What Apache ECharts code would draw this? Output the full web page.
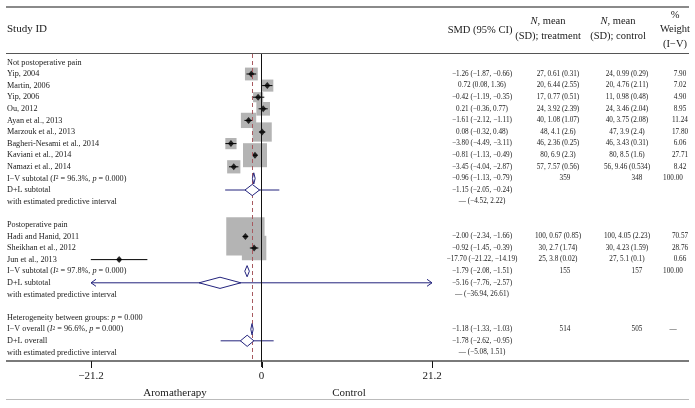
<!DOCTYPE html>
<html><head><meta charset="utf-8">
<script src="https://cdn.jsdelivr.net/npm/echarts@6/dist/echarts.min.js"></script>
<style>html,body{margin:0;padding:0;background:#fff}#c{width:695px;height:408px}</style>
</head><body><div id="c"></div>
<script>
// ---------- data ----------
const group1Name = 'Not postoperative pain';
const group1Studies = ['Yip, 2004','Martin, 2006','Yip, 2006','Ou, 2012','Ayan et al., 2013','Marzouk et al., 2013','Bagheri-Nesami et al., 2014','Kaviani et al., 2014','Namazi et al., 2014'];
const group1Smd = [-1.26, 0.72, -0.42, 0.21, -1.61, 0.08, -3.80, -0.81, -3.45];
const group1Lo  = [-1.87, 0.08, -1.19, -0.36, -2.12, -0.32, -4.49, -1.13, -4.04];
const group1Hi  = [-0.66, 1.36, 0.35, 0.77, -1.11, 0.48, -3.11, -0.49, -2.87];
const group1CiText = ['−1.26 (−1.87, −0.66)','0.72 (0.08, 1.36)','−0.42 (−1.19, −0.35)','0.21 (−0.36, 0.77)','−1.61 (−2.12, −1.11)','0.08 (−0.32, 0.48)','−3.80 (−4.49, −3.11)','−0.81 (−1.13, −0.49)','−3.45 (−4.04, −2.87)'];
const group1Treatment = ['27, 0.61 (0.31)','20, 6.44 (2.55)','17, 0.77 (0.51)','24, 3.92 (2.39)','40, 1.08 (1.07)','48, 4.1 (2.6)','46, 2.36 (0.25)','80, 6.9 (2.3)','57, 7.57 (0.56)'];
const group1Control = ['24, 0.99 (0.29)','20, 4.76 (2.11)','11, 0.98 (0.48)','24, 3.46 (2.04)','40, 3.75 (2.08)','47, 3.9 (2.4)','46, 3.43 (0.31)','80, 8.5 (1.6)','56, 9.46 (0.534)'];
const group1Weight = [7.90, 7.02, 4.90, 8.95, 11.24, 17.80, 6.06, 27.71, 8.42];
const group1IV = [-0.96, -1.13, -0.79];
const group1DL = [-1.15, -2.05, -0.24];
const group1PI = [-4.52, 2.22];
const group1I2 = '96.3%';
const group1N = [359, 348];

const group2Name = 'Postoperative pain';
const group2Studies = ['Hadi and Hanid, 2011','Sheikhan et al., 2012','Jun et al., 2013'];
const group2Smd = [-2.00, -0.92, -17.70];
const group2Lo  = [-2.34, -1.45, -21.22];
const group2Hi  = [-1.66, -0.39, -14.19];
const group2CiText = ['−2.00 (−2.34, −1.66)','−0.92 (−1.45, −0.39)','−17.70 (−21.22, −14.19)'];
const group2Treatment = ['100, 0.67 (0.85)','30, 2.7 (1.74)','25, 3.8 (0.02)'];
const group2Control = ['100, 4.05 (2.23)','30, 4.23 (1.59)','27, 5.1 (0.1)'];
const group2Weight = [70.57, 28.76, 0.66];
const group2IV = [-1.79, -2.08, -1.51];
const group2DL = [-5.16, -7.76, -2.57];
const group2PI = [-36.94, 26.61];
const group2I2 = '97.8%';
const group2N = [155, 157];

const heterogeneityP = '0.000';
const overallIV = [-1.18, -1.33, -1.03];
const overallDL = [-1.78, -2.62, -0.95];
const overallPI = [-5.08, 1.51];
const overallI2 = '96.6%';
const overallN = [514, 505];

const axisTicks = [-21.2, 0, 21.2];
const sideLabels = ['Aromatherapy', 'Control'];

// ---------- styles ----------
const FONT = 'Liberation Serif';
const TXT = '#1a1a1a';
const NAVY = '#23237d';
const BOX = '#b4b4b4';
const BOX_K = 4.56;
const COL = {study: 7, smd: 482, treat: 558, treatTot: 565, ctrl: 627, ctrlTot: 637, wt: 680, wtTot: 673};
const FS = 8.2;   // label column
const FN = 7.2;   // numeric columns
const Y_MIN = -0.724, Y_MAX = 25.74;

function fmt(v){ return (v < 0 ? '−' : '') + Math.abs(v).toFixed(2); }
function ciStr(a){ return fmt(a[0]) + ' (' + fmt(a[1]) + ', ' + fmt(a[2]) + ')'; }

// ---------- build rows ----------
const rows = [];
function addGroup(name, studies, smd, lo, hi, ciText, tr, ct, wt, iv, dl, pi, i2, n){
  rows.push({kind:'head', label:name});
  studies.forEach((s,i)=>rows.push({kind:'study', label:s, est:smd[i], lo:lo[i], hi:hi[i], ci:ciText[i], t:tr[i], c:ct[i], w:wt[i]}));
  rows.push({kind:'iv', label:'I−V subtotal ({it|I}{sup|2} = ' + i2 + ', {it|p} = 0.000)', est:iv[0], lo:iv[1], hi:iv[2], ci:ciStr(iv), t:String(n[0]), c:String(n[1]), wtxt:'100.00'});
  rows.push({kind:'dl', label:'D+L subtotal', est:dl[0], lo:dl[1], hi:dl[2], ci:ciStr(dl), pi:pi});
  rows.push({kind:'pitext', label:'with estimated predictive interval', ci:'— (' + fmt(pi[0]) + ', ' + fmt(pi[1]) + ')'});
  rows.push({kind:'blank'});
}
addGroup(group1Name, group1Studies, group1Smd, group1Lo, group1Hi, group1CiText, group1Treatment, group1Control, group1Weight, group1IV, group1DL, group1PI, group1I2, group1N);
addGroup(group2Name, group2Studies, group2Smd, group2Lo, group2Hi, group2CiText, group2Treatment, group2Control, group2Weight, group2IV, group2DL, group2PI, group2I2, group2N);
rows.push({kind:'head', label:'Heterogeneity between groups: {it|p} = ' + heterogeneityP});
rows.push({kind:'iv', label:'I−V overall ({it|I}{sup|2} = ' + overallI2 + ', {it|p} = 0.000)', est:overallIV[0], lo:overallIV[1], hi:overallIV[2], ci:ciStr(overallIV), t:String(overallN[0]), c:String(overallN[1]), wtxt:'—'});
rows.push({kind:'dl', label:'D+L overall', est:overallDL[0], lo:overallDL[1], hi:overallDL[2], ci:ciStr(overallDL), pi:overallPI});
rows.push({kind:'pitext', label:'with estimated predictive interval', ci:'— (' + fmt(overallPI[0]) + ', ' + fmt(overallPI[1]) + ')'});

const studyRows = [], ciRows = [], diamondRows = [], piRows = [];
rows.forEach((r,i)=>{
  if (r.kind === 'study'){ studyRows.push([r.est, i, r.w]); ciRows.push([r.lo, r.hi, i]); }
  if (r.kind === 'iv' || r.kind === 'dl') diamondRows.push([r.lo, r.est, r.hi, i]);
  if (r.kind === 'dl') piRows.push([r.pi[0], r.pi[1], i]);
});

const rich = {
  it: {fontFamily: FONT, fontSize: FS, fontStyle: 'italic', fill: TXT},
  sup: {fontFamily: FONT, fontSize: 5.5, verticalAlign: 'top', fill: TXT}
};
const richH = {
  it: {fontFamily: FONT, fontSize: 10.5, fontStyle: 'italic', fill: TXT}
};

const chart = echarts.init(document.getElementById('c'), null, {renderer: 'canvas'});
const X_MIN = axisTicks[0], X_MAX = axisTicks[axisTicks.length-1];

function txt(text, x, y, align, size, richDef){
  const st = {text, x, y, align, verticalAlign: 'middle', fontFamily: FONT, fontSize: size || FN, fill: TXT};
  if (richDef) st.rich = richDef;
  return {type: 'text', style: st};
}

const option = {
  animation: false,
  grid: {left: 91, right: 263, top: 54, bottom: 47},
  xAxis: {
    type: 'value', min: X_MIN, max: X_MAX, interval: 21.2, position: 'bottom',
    axisLine: {show: true, onZero: false, lineStyle: {color: '#7a7a7a', width: 2}},
    axisTick: {show: true, inside: false, length: 6, lineStyle: {color: '#222', width: 1}},
    axisLabel: {margin: 10, fontFamily: FONT, fontSize: 11, color: TXT,
      formatter: v => (v < 0 ? '−' + Math.abs(v) : String(v))},
    splitLine: {show: false}
  },
  yAxis: {type: 'value', min: Y_MIN, max: Y_MAX, inverse: true, show: false},
  graphic: [
    {type: 'line', z: -1, shape: {x1: 6, y1: 7, x2: 689, y2: 7}, style: {stroke: '#8a8a8a', lineWidth: 2}},
    {type: 'line', z: -1, shape: {x1: 6, y1: 53.5, x2: 689, y2: 53.5}, style: {stroke: '#555', lineWidth: 1.2}},
    {type: 'line', z: -1, shape: {x1: 6, y1: 361, x2: 689, y2: 361}, style: {stroke: '#7a7a7a', lineWidth: 2}},
    {type: 'line', z: -1, shape: {x1: 6, y1: 399.5, x2: 689, y2: 399.5}, style: {stroke: '#bbb', lineWidth: 1}},
    {type: 'text', style: {text: 'Study ID', x: 7, y: 29, align: 'left', verticalAlign: 'middle', fontFamily: FONT, fontSize: 11, fill: TXT}},
    {type: 'text', style: {text: 'SMD (95% CI)', x: 480, y: 30, align: 'center', verticalAlign: 'middle', fontFamily: FONT, fontSize: 10.5, fill: TXT}},
    {type: 'text', style: {text: '{it|N}, mean', rich: richH, x: 548, y: 21, align: 'center', verticalAlign: 'middle', fontFamily: FONT, fontSize: 10.5, fill: TXT}},
    {type: 'text', style: {text: '(SD); treatment', x: 548, y: 36, align: 'center', verticalAlign: 'middle', fontFamily: FONT, fontSize: 10.5, fill: TXT}},
    {type: 'text', style: {text: '{it|N}, mean', rich: richH, x: 618, y: 21, align: 'center', verticalAlign: 'middle', fontFamily: FONT, fontSize: 10.5, fill: TXT}},
    {type: 'text', style: {text: '(SD); control', x: 618, y: 36, align: 'center', verticalAlign: 'middle', fontFamily: FONT, fontSize: 10.5, fill: TXT}},
    {type: 'text', style: {text: '%', x: 675, y: 15, align: 'center', verticalAlign: 'middle', fontFamily: FONT, fontSize: 10.5, fill: TXT}},
    {type: 'text', style: {text: 'Weight', x: 675, y: 29, align: 'center', verticalAlign: 'middle', fontFamily: FONT, fontSize: 10.5, fill: TXT}},
    {type: 'text', style: {text: '(I−V)', x: 675, y: 44, align: 'center', verticalAlign: 'middle', fontFamily: FONT, fontSize: 10.5, fill: TXT}},
    {type: 'text', style: {text: sideLabels[0], x: 175, y: 393, align: 'center', verticalAlign: 'middle', fontFamily: FONT, fontSize: 11, fill: TXT}},
    {type: 'text', style: {text: sideLabels[1], x: 349, y: 393, align: 'center', verticalAlign: 'middle', fontFamily: FONT, fontSize: 11, fill: TXT}}
  ],
  series: [
    { // weight boxes
      type: 'scatter', silent: true, z: 2,
      data: studyRows,
      symbol: 'rect',
      symbolSize: d => BOX_K * Math.sqrt(d[2]),
      itemStyle: {color: BOX, opacity: 1},
      markLine: {
        silent: true, symbol: 'none', label: {show: false},
        data: [
          {xAxis: 0, lineStyle: {color: '#111', width: 1, type: 'solid'}},
          {xAxis: overallIV[0], lineStyle: {color: '#a85a60', width: 1, type: [4, 3]}}
        ]
      }
    },
    { // CI lines
      type: 'custom', silent: true, z: 3, clip: false,
      data: ciRows,
      renderItem: (p, api) => {
        const a = api.coord([api.value(0), api.value(2)]);
        const b = api.coord([api.value(1), api.value(2)]);
        return {type: 'line', shape: {x1: a[0], y1: a[1], x2: b[0], y2: b[1]}, style: {stroke: '#000', lineWidth: 1}};
      }
    },
    { // point estimates
      type: 'scatter', silent: true, z: 4,
      data: studyRows.map(d => [d[0], d[1]]),
      symbol: 'diamond', symbolSize: [6, 7],
      itemStyle: {color: '#000'}
    },
    { // predictive intervals
      type: 'custom', silent: true, z: 4, clip: false,
      data: piRows,
      renderItem: (p, api) => {
        const lo = api.value(0), hi = api.value(1), row = api.value(2);
        const a = api.coord([Math.max(lo, X_MIN), row]);
        const b = api.coord([Math.min(hi, X_MAX), row]);
        const st = {stroke: NAVY, lineWidth: 1, fill: null};
        const ch = [{type: 'line', shape: {x1: a[0], y1: a[1], x2: b[0], y2: b[1]}, style: st}];
        if (lo < X_MIN) ch.push({type: 'polyline', shape: {points: [[a[0]+5, a[1]-3.5], [a[0], a[1]], [a[0]+5, a[1]+3.5]]}, style: st});
        if (hi > X_MAX) ch.push({type: 'polyline', shape: {points: [[b[0]-5, b[1]-3.5], [b[0], b[1]], [b[0]-5, b[1]+3.5]]}, style: st});
        return {type: 'group', children: ch};
      }
    },
    { // pooled diamonds
      type: 'custom', silent: true, z: 5, clip: false,
      data: diamondRows,
      renderItem: (p, api) => {
        const row = api.value(3);
        const l = api.coord([api.value(0), row]);
        const m = api.coord([api.value(1), row]);
        const r = api.coord([api.value(2), row]);
        const h = 5.6;
        return {type: 'polygon', shape: {points: [[l[0], l[1]], [m[0], m[1]-h], [r[0], r[1]], [m[0], m[1]+h]]},
          style: {fill: '#fff', stroke: NAVY, lineWidth: 1}};
      }
    },
    { // table text (+ axis ticks under the rule on the last row)
      type: 'custom', silent: true, z: 6, clip: false,
      data: rows.map((r, i) => [0, i]),
      renderItem: (p, api) => {
        const r = rows[p.dataIndex];
        if (r.kind === 'blank') return null;
        const y = api.coord([0, api.value(1)])[1];
        const ch = [txt(r.label, COL.study, y, 'left', FS, rich)];
        if (r.ci) ch.push(txt(r.ci, COL.smd, y, 'center'));
        if (r.kind === 'study'){
          ch.push(txt(r.t, COL.treat, y, 'center'));
          ch.push(txt(r.c, COL.ctrl, y, 'center'));
          ch.push(txt(r.w.toFixed(2), COL.wt, y, 'center'));
        }
        if (r.kind === 'iv'){
          ch.push(txt(r.t, COL.treatTot, y, 'center'));
          ch.push(txt(r.c, COL.ctrlTot, y, 'center'));
          ch.push(txt(r.wtxt, COL.wtTot, y, 'center'));
        }
        if (p.dataIndex === rows.length - 1){
          axisTicks.forEach(v => {
            const a = api.coord([v, Y_MAX]);
            ch.push({type: 'line', shape: {x1: Math.round(a[0]) + 0.5, y1: a[1] + 1, x2: Math.round(a[0]) + 0.5, y2: a[1] + 7},
              style: {stroke: '#111', lineWidth: 1}});
          });
        }
        return {type: 'group', children: ch};
      }
    }
  ]
};
chart.setOption(option);
</script>
</body></html>
